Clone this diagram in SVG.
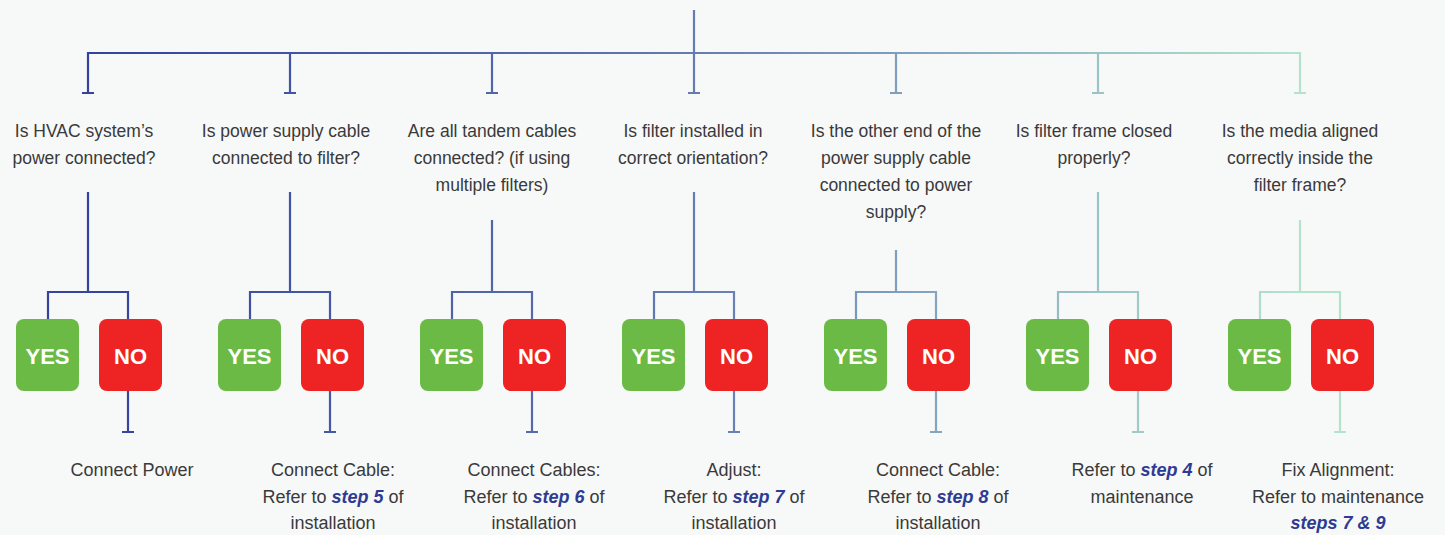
<svg xmlns="http://www.w3.org/2000/svg" width="1445" height="535" viewBox="0 0 1445 535">
<defs>
<linearGradient id="lg" gradientUnits="userSpaceOnUse" x1="88" y1="0" x2="1300" y2="0">
<stop offset="0" stop-color="#33439e"/>
<stop offset="0.35" stop-color="#5268ab"/>
<stop offset="0.5" stop-color="#647bb3"/>
<stop offset="0.67" stop-color="#7e9fbf"/>
<stop offset="0.83" stop-color="#9bc3c6"/>
<stop offset="1" stop-color="#b4e3cd"/>
</linearGradient>
<style>
.c{fill:none;stroke:url(#lg);stroke-width:2.2;stroke-linejoin:miter;stroke-linecap:butt}
.q{font-family:"Liberation Sans",Arial,sans-serif;font-size:17.5px;fill:#3a3a3a;text-anchor:middle}
.a{font-family:"Liberation Sans",Arial,sans-serif;font-size:18px;fill:#3a3a3a;text-anchor:middle}
.em{font-weight:bold;font-style:italic;fill:#2e3b92}
.yes{fill:#6aba45}
.no{fill:#ee2324}
.bt{font-family:"Liberation Sans",Arial,sans-serif;font-size:22px;font-weight:bold;fill:#ffffff;text-anchor:middle}
</style>
</defs>
<rect width="1445" height="535" fill="#f7f8f8"/>
<g id="connectors">
<path class="c" d="M694,10 V93"/>
<path class="c" d="M88,93 V53 H1300 V93"/>
<path class="c" d="M290,53 V93 M492,53 V93 M896,53 V93 M1098,53 V93"/>
<path class="c" d="M82,93 H94 M284,93 H296 M486,93 H498 M688,93 H700 M890,93 H902 M1092,93 H1104 M1294,93 H1306"/>
<path class="c" d="M88,192 V292 M48,319 V292 H128 V319"/>
<path class="c" d="M290,192 V292 M250,319 V292 H330 V319"/>
<path class="c" d="M492,220 V292 M452,319 V292 H532 V319"/>
<path class="c" d="M694,192 V292 M654,319 V292 H734 V319"/>
<path class="c" d="M896,250 V292 M856,319 V292 H936 V319"/>
<path class="c" d="M1098,192 V292 M1058,319 V292 H1138 V319"/>
<path class="c" d="M1300,220 V292 M1260,319 V292 H1340 V319"/>
<path class="c" d="M128,391 V432 M330,391 V432 M532,391 V432 M734,391 V432 M936,391 V432 M1138,391 V432 M1340,391 V432"/>
<path class="c" d="M122,432 H134 M324,432 H336 M526,432 H538 M728,432 H740 M930,432 H942 M1132,432 H1144 M1334,432 H1346"/>
</g>
<g id="q1"><text class="q" x="84" y="137">Is HVAC system’s</text><text class="q" x="84" y="164">power connected?</text></g>
<g id="q2"><text class="q" x="286" y="137">Is power supply cable</text><text class="q" x="286" y="164">connected to filter?</text></g>
<g id="q3"><text class="q" x="492" y="137">Are all tandem cables</text><text class="q" x="492" y="164">connected? (if using</text><text class="q" x="492" y="191">multiple filters)</text></g>
<g id="q4"><text class="q" x="693" y="137">Is filter installed in</text><text class="q" x="693" y="164">correct orientation?</text></g>
<g id="q5"><text class="q" x="896" y="137">Is the other end of the</text><text class="q" x="896" y="164">power supply cable</text><text class="q" x="896" y="191">connected to power</text><text class="q" x="896" y="218">supply?</text></g>
<g id="q6"><text class="q" x="1094" y="137">Is filter frame closed</text><text class="q" x="1094" y="164">properly?</text></g>
<g id="q7"><text class="q" x="1300" y="137">Is the media aligned</text><text class="q" x="1300" y="164">correctly inside the</text><text class="q" x="1300" y="191">filter frame?</text></g>
<g id="yes1"><rect class="yes" x="16" y="319" width="63" height="72" rx="8"/><text class="bt" x="47.5" y="364">YES</text></g>
<g id="no1"><rect class="no" x="99" y="319" width="63" height="72" rx="8"/><text class="bt" x="130.5" y="364">NO</text></g>
<g id="yes2"><rect class="yes" x="218" y="319" width="63" height="72" rx="8"/><text class="bt" x="249.5" y="364">YES</text></g>
<g id="no2"><rect class="no" x="301" y="319" width="63" height="72" rx="8"/><text class="bt" x="332.5" y="364">NO</text></g>
<g id="yes3"><rect class="yes" x="420" y="319" width="63" height="72" rx="8"/><text class="bt" x="451.5" y="364">YES</text></g>
<g id="no3"><rect class="no" x="503" y="319" width="63" height="72" rx="8"/><text class="bt" x="534.5" y="364">NO</text></g>
<g id="yes4"><rect class="yes" x="622" y="319" width="63" height="72" rx="8"/><text class="bt" x="653.5" y="364">YES</text></g>
<g id="no4"><rect class="no" x="705" y="319" width="63" height="72" rx="8"/><text class="bt" x="736.5" y="364">NO</text></g>
<g id="yes5"><rect class="yes" x="824" y="319" width="63" height="72" rx="8"/><text class="bt" x="855.5" y="364">YES</text></g>
<g id="no5"><rect class="no" x="907" y="319" width="63" height="72" rx="8"/><text class="bt" x="938.5" y="364">NO</text></g>
<g id="yes6"><rect class="yes" x="1026" y="319" width="63" height="72" rx="8"/><text class="bt" x="1057.5" y="364">YES</text></g>
<g id="no6"><rect class="no" x="1109" y="319" width="63" height="72" rx="8"/><text class="bt" x="1140.5" y="364">NO</text></g>
<g id="yes7"><rect class="yes" x="1228" y="319" width="63" height="72" rx="8"/><text class="bt" x="1259.5" y="364">YES</text></g>
<g id="no7"><rect class="no" x="1311" y="319" width="63" height="72" rx="8"/><text class="bt" x="1342.5" y="364">NO</text></g>
<g id="a1"><text class="a" x="132" y="476">Connect Power</text></g>
<g id="a2"><text class="a" x="333" y="476">Connect Cable:</text><text class="a" x="333" y="502.5">Refer to <tspan class="em">step 5</tspan> of</text><text class="a" x="333" y="529">installation</text></g>
<g id="a3"><text class="a" x="534" y="476">Connect Cables:</text><text class="a" x="534" y="502.5">Refer to <tspan class="em">step 6</tspan> of</text><text class="a" x="534" y="529">installation</text></g>
<g id="a4"><text class="a" x="734" y="476">Adjust:</text><text class="a" x="734" y="502.5">Refer to <tspan class="em">step 7</tspan> of</text><text class="a" x="734" y="529">installation</text></g>
<g id="a5"><text class="a" x="938" y="476">Connect Cable:</text><text class="a" x="938" y="502.5">Refer to <tspan class="em">step 8</tspan> of</text><text class="a" x="938" y="529">installation</text></g>
<g id="a6"><text class="a" x="1142" y="476">Refer to <tspan class="em">step 4</tspan> of</text><text class="a" x="1142" y="502.5">maintenance</text></g>
<g id="a7"><text class="a" x="1338" y="476">Fix Alignment:</text><text class="a" x="1338" y="502.5">Refer to maintenance</text><text class="a" x="1338" y="529"><tspan class="em">steps 7 &amp; 9</tspan></text></g>
</svg>
